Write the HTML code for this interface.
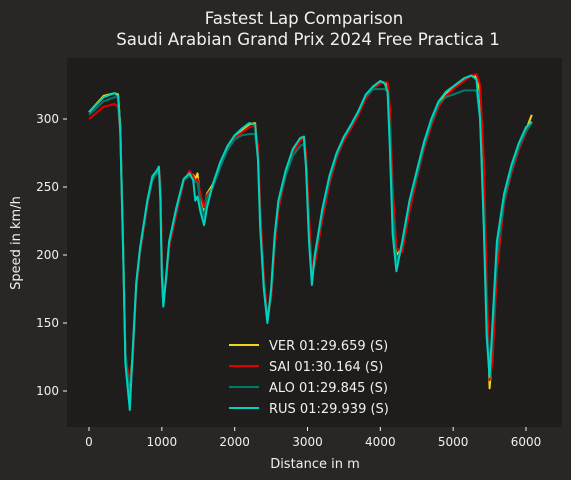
<!DOCTYPE html>
<html><head><meta charset="utf-8"><style>
html,body{margin:0;padding:0;background:#292625;}
svg{display:block;font-family:"DejaVu Sans","Liberation Sans",sans-serif;}
</style></head><body>
<svg id="chart" width="571" height="480">
<rect width="571" height="480" fill="#292625"/>
<text x="304" y="24" fill="#f0f0f0" font-size="16.6" text-anchor="middle">Fastest Lap Comparison</text>
<text x="308" y="45" fill="#f0f0f0" font-size="16.6" text-anchor="middle">Saudi Arabian Grand Prix 2024 Free Practica 1</text>
<rect x="67" y="58" width="495" height="369" fill="#1e1d1c"/>
<g id="axes"></g>
<g id="series"></g>
<text x="315" y="468" fill="#f0f0f0" font-size="13" text-anchor="middle">Distance in m</text>
<text x="20" y="243" fill="#f0f0f0" font-size="13" text-anchor="middle" transform="rotate(-90 20 243)">Speed in km/h</text>
<g id="legend"></g>
</svg>
<script>
const distances=[0,200,350,400,430,470,500,560,600,650,700,800,870,930,960,980,1000,1020,1060,1100,1200,1300,1380,1430,1460,1490,1530,1580,1620,1700,1800,1900,2000,2100,2200,2280,2320,2350,2400,2450,2500,2550,2600,2700,2800,2900,2950,2980,3020,3060,3100,3200,3300,3400,3500,3600,3700,3800,3900,4000,4060,4100,4130,4170,4220,4300,4400,4500,4600,4700,4800,4900,5000,5150,5250,5320,5370,5420,5460,5500,5540,5600,5700,5800,5900,6000,6080];
const verSpeed=[305,317,319,318,295,205,125,104,125,178,203,238,256,261,264,250,195,165,182,207,233,255,259,259,256,260,240,232,245,252,267,279,288,292,296,297,275,230,180,152,170,210,237,260,276,285,287,270,220,185,195,228,255,273,286,295,305,317,323,327,327,325,300,240,200,205,236,260,281,298,312,319,323,329,332,331,320,260,170,102,130,195,240,262,279,292,303];
const saiSpeed=[300,309,311,309,290,200,125,106,122,175,201,236,255,260,263,255,200,168,180,205,230,254,262,258,254,256,245,235,244,250,265,277,286,290,294,295,280,235,185,155,168,205,233,258,275,284,286,275,230,190,193,225,252,271,284,293,303,315,322,326,327,327,310,250,205,202,232,256,278,295,309,317,322,328,332,333,325,270,180,108,120,188,238,260,277,290,298];
const aloSpeed=[303,313,316,316,292,205,128,95,125,178,203,238,255,260,262,245,190,163,183,208,233,255,258,256,254,253,238,228,242,250,264,277,285,288,289,289,270,225,178,152,172,212,238,258,273,280,282,265,215,182,198,230,255,273,286,295,305,317,322,322,322,320,295,235,195,207,238,258,280,297,311,316,318,321,321,321,300,230,150,110,140,200,240,262,279,291,297];
const rusSpeed=[305,316,319,317,290,200,120,86,130,180,205,240,258,262,265,240,185,162,185,210,235,256,260,255,240,243,232,222,235,252,268,280,288,293,297,296,270,220,175,150,175,215,240,262,278,286,287,265,210,178,200,233,258,275,287,296,306,318,324,328,326,320,280,215,188,210,240,262,283,300,313,320,324,330,332,329,300,220,140,110,150,210,245,266,282,294,298];
const xTicks=[0,1000,2000,3000,4000,5000,6000];
const yTicks=[100,150,200,250,300];
const driverNames=["VER 01:29.659 (S)","SAI 01:30.164 (S)","ALO 01:29.845 (S)","RUS 01:29.939 (S)"];
const colors=["#f2d51a","#e00000","#007a6b","#00d2be"];
const NS="http://www.w3.org/2000/svg";
const xs=d=>89+d*(437/6000);
const ys=v=>119+(300-v)*1.36;
const axes=document.getElementById('axes');
function mk(tag,attrs,parent){const e=document.createElementNS(NS,tag);for(const k in attrs)e.setAttribute(k,attrs[k]);parent.appendChild(e);return e;}
xTicks.forEach(t=>{
  const l=mk('line',{x1:xs(t),x2:xs(t),y1:427,y2:431,stroke:'#f0f0f0'},axes);
  
  
  const tx=mk('text',{x:xs(t),y:446,fill:'#f0f0f0','font-size':12,'text-anchor':'middle'},axes);
  tx.textContent=t;
  
  
});
yTicks.forEach(t=>{
  const l=mk('line',{x1:63,x2:67,y1:ys(t),y2:ys(t),stroke:'#f0f0f0'},axes);
  
  
  const tx=mk('text',{x:59,y:ys(t)+4,fill:'#f0f0f0','font-size':12,'text-anchor':'end'},axes);
  tx.textContent=t;
  
  
});
const series=document.getElementById('series');
[verSpeed,saiSpeed,aloSpeed,rusSpeed].forEach((arr,i)=>{
  const pts=arr.map((v,j)=>xs(distances[j]).toFixed(1)+','+ys(v).toFixed(1)).join(' ');
  const p=mk('polyline',{points:pts,fill:'none',stroke:colors[i],'stroke-width':2,'stroke-linejoin':'round'},series);
  
  
});
const lg=document.getElementById('legend');
const box=mk('rect',{x:218,y:332,width:148,height:92,fill:'#1e1d1c',opacity:0.85,rx:3},lg);


driverNames.forEach((n,i)=>{
  const y=345+i*21;
  const l=mk('line',{x1:229,x2:259,y1:y,y2:y,stroke:colors[i],'stroke-width':2},lg);
  
  
  const t=mk('text',{x:269,y:y+5,fill:'#f0f0f0','font-size':13},lg);
  t.textContent=n;
  
  
});
</script>
</body></html>
